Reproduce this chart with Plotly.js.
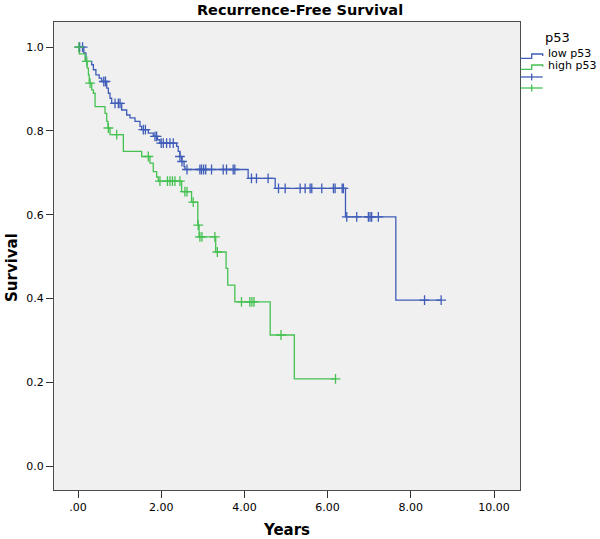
<!DOCTYPE html>
<html>
<head>
<meta charset="utf-8">
<script src="https://cdn.plot.ly/plotly-3.0.1.min.js"></script>
<style>html,body{margin:0;padding:0;background:#fff;}#chart{width:600px;height:539px;}</style>
</head>
<body>
<div id="chart"></div>
<script>
// ---- Data ----
var groupNames = ['low p53', 'high p53'];
var legendTitle = 'p53';

// Kaplan-Meier steps: time (years) and survival after each step
var lowTimes = [0, 0.14, 0.19, 0.33, 0.37, 0.43, 0.51, 0.57, 0.69, 0.73, 0.77, 0.81, 1.05, 1.17, 1.25, 1.37, 1.49, 1.53, 1.69, 1.81, 1.91, 1.97, 2.37, 2.41, 2.45, 2.49, 2.55, 2.57, 4.09, 4.74, 6.43, 7.64, 8.73];
var lowSurv  = [1.0, 0.986, 0.966, 0.958, 0.946, 0.934, 0.926, 0.918, 0.902, 0.890, 0.878, 0.866, 0.850, 0.838, 0.831, 0.823, 0.811, 0.803, 0.795, 0.787, 0.779, 0.771, 0.763, 0.751, 0.739, 0.727, 0.715, 0.708, 0.687, 0.663, 0.595, 0.396, 0.396];

var lowCensTimes = [0.04, 0.11, 0.62, 0.66, 0.89, 0.97, 1.01, 1.57, 1.62, 1.85, 1.89, 2.00, 2.05, 2.13, 2.21, 2.29, 2.45, 2.50, 2.62, 2.93, 2.97, 3.02, 3.07, 3.21, 3.49, 3.57, 3.73, 3.77, 4.17, 4.29, 4.57, 4.82, 4.98, 5.34, 5.46, 5.58, 5.62, 5.86, 6.14, 6.18, 6.35, 6.38, 6.46, 6.70, 6.98, 7.02, 7.06, 7.22, 8.33, 8.73];
var lowCensSurv  = [1.0, 1.0, 0.918, 0.918, 0.866, 0.866, 0.866, 0.803, 0.803, 0.787, 0.787, 0.771, 0.771, 0.771, 0.771, 0.771, 0.739, 0.727, 0.708, 0.708, 0.708, 0.708, 0.708, 0.708, 0.708, 0.708, 0.708, 0.708, 0.687, 0.687, 0.687, 0.663, 0.663, 0.663, 0.663, 0.663, 0.663, 0.663, 0.663, 0.663, 0.663, 0.663, 0.595, 0.595, 0.595, 0.595, 0.595, 0.595, 0.396, 0.396];

var highTimes = [0, 0.03, 0.17, 0.22, 0.25, 0.27, 0.33, 0.37, 0.41, 0.65, 0.69, 0.72, 0.77, 1.09, 1.53, 1.73, 1.81, 1.89, 1.93, 2.49, 2.73, 2.88, 2.91, 3.31, 3.56, 3.60, 3.77, 4.62, 5.20, 6.19];
var highSurv  = [1.0, 0.984, 0.966, 0.950, 0.934, 0.914, 0.898, 0.890, 0.858, 0.842, 0.823, 0.807, 0.791, 0.751, 0.739, 0.723, 0.703, 0.690, 0.680, 0.655, 0.630, 0.575, 0.547, 0.511, 0.472, 0.432, 0.392, 0.313, 0.208, 0.208];

var highCensTimes = [0.02, 0.21, 0.29, 0.73, 0.93, 1.69, 1.97, 2.15, 2.21, 2.27, 2.33, 2.45, 2.57, 2.62, 2.77, 2.89, 2.93, 2.98, 3.29, 3.35, 3.93, 4.13, 4.18, 4.23, 4.88, 6.19];
var highCensSurv  = [1.0, 0.966, 0.914, 0.807, 0.791, 0.739, 0.680, 0.680, 0.680, 0.680, 0.680, 0.680, 0.655, 0.655, 0.630, 0.575, 0.547, 0.547, 0.547, 0.511, 0.392, 0.392, 0.392, 0.392, 0.313, 0.208];

var xTickVals = [0, 2, 4, 6, 8, 10];
var xTickText = ['.00', '2.00', '4.00', '6.00', '8.00', '10.00'];
var yTickVals = [0, 0.2, 0.4, 0.6, 0.8, 1.0];
var yTickText = ['0.0', '0.2', '0.4', '0.6', '0.8', '1.0'];

// ---- Styles ----
var blue = '#3f5cb8';
var green = '#45c152';
var FONT = 'DejaVu Sans, sans-serif';

function stepTrace(x, y, color, name) {
  return {x: x, y: y, type: 'scatter', mode: 'lines', name: name,
    line: {shape: 'hv', color: color, width: 1.3}, hoverinfo: 'skip', showlegend: false};
}
function censTrace(x, y, color, name) {
  return {x: x, y: y, type: 'scatter', mode: 'markers', name: name,
    marker: {symbol: 'cross-thin', size: 7, color: color, line: {color: color, width: 1.3}},
    hoverinfo: 'skip', showlegend: false};
}

var data = [
  stepTrace(lowTimes, lowSurv, blue, groupNames[0]),
  stepTrace(highTimes, highSurv, green, groupNames[1]),
  censTrace(lowCensTimes, lowCensSurv, blue, groupNames[0] + ' censored'),
  censTrace(highCensTimes, highCensSurv, green, groupNames[1] + ' censored')
];

// Legend drawn in paper coordinates (outside plot, right side)
var L = 54, R = 520, T = 22, B = 490;
function px(x) { return (x - L) / (R - L); }
function py(y) { return (B - y) / (B - T); }
function stepIcon(yLow, yHigh, yEnd, color) {
  return {type: 'path', xref: 'paper', yref: 'paper',
    path: 'M' + px(520.7) + ',' + py(yLow) + ' L' + px(531.7) + ',' + py(yLow) + ' L' + px(531.7) + ',' + py(yHigh) +
          ' L' + px(542.7) + ',' + py(yHigh) + ' L' + px(542.7) + ',' + py(yEnd),
    line: {color: color, width: 1.3}};
}
function crossIcon(yc, color) {
  return [
    {type: 'line', xref: 'paper', yref: 'paper', x0: px(520.7), x1: px(542.7), y0: py(yc), y1: py(yc), line: {color: color, width: 1.3}},
    {type: 'line', xref: 'paper', yref: 'paper', x0: px(531.7), x1: px(531.7), y0: py(yc - 3.5), y1: py(yc + 3.5), line: {color: color, width: 1.3}}
  ];
}
var shapes = [stepIcon(58.3, 54, 56, blue), stepIcon(69.3, 65, 66.7, green)]
  .concat(crossIcon(77, blue)).concat(crossIcon(88, green));

var annotations = [
  {text: legendTitle, xref: 'paper', yref: 'paper', x: px(557), y: py(38), xanchor: 'center', yanchor: 'middle', showarrow: false,
   font: {family: FONT, size: 13, color: '#000'}},
  {text: groupNames[0], xref: 'paper', yref: 'paper', x: px(546), y: py(54), xanchor: 'left', yanchor: 'middle', showarrow: false,
   font: {family: FONT, size: 11, color: '#000'}},
  {text: groupNames[1], xref: 'paper', yref: 'paper', x: px(546), y: py(65), xanchor: 'left', yanchor: 'middle', showarrow: false,
   font: {family: FONT, size: 11, color: '#000'}},
  {text: '<b>Survival</b>', xref: 'paper', yref: 'paper', x: px(12), y: py(268), xanchor: 'center', yanchor: 'middle', showarrow: false,
   textangle: -90, font: {family: FONT, size: 15, color: '#000'}}
];

var layout = {
  width: 600, height: 539,
  margin: {l: L, r: 600 - R, t: T, b: 539 - B, pad: 0},
  paper_bgcolor: '#ffffff',
  plot_bgcolor: '#f0f0f0',
  showlegend: false,
  title: {text: '<b>Recurrence-Free Survival</b>', x: 0.5, xanchor: 'center', y: 1 - 10 / 539, yanchor: 'middle', yref: 'container',
          font: {family: FONT, size: 14.5, color: '#000'}},
  xaxis: {range: [-0.577, 10.625], tickvals: xTickVals, ticktext: xTickText, ticks: 'outside', ticklen: 7, tickcolor: '#333', tickwidth: 1,
          showline: true, mirror: true, linecolor: '#4d4d4d', linewidth: 1, showgrid: false, zeroline: false,
          tickfont: {family: FONT, size: 11, color: '#000'},
          title: {text: '<b>Years</b>', font: {family: FONT, size: 15, color: '#000'}, standoff: 14}},
  yaxis: {range: [-0.057, 1.06], tickvals: yTickVals, ticktext: yTickText, ticks: 'outside', ticklen: 7, tickcolor: '#333', tickwidth: 1,
          showline: true, mirror: true, linecolor: '#4d4d4d', linewidth: 1, showgrid: false, zeroline: false,
          tickfont: {family: FONT, size: 11, color: '#000'}},
  shapes: shapes,
  annotations: annotations
};

Plotly.newPlot('chart', data, layout, {displayModeBar: false, staticPlot: true});
</script>
</body>
</html>
